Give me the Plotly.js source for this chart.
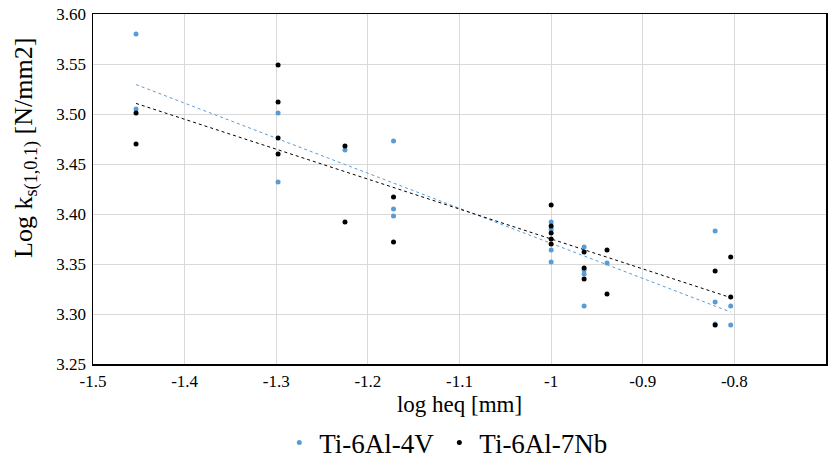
<!DOCTYPE html>
<html>
<head>
<meta charset="utf-8">
<script src="https://cdn.plot.ly/plotly-3.0.1.min.js"></script>
<style>html,body{margin:0;padding:0;background:#fff;}#chart{width:839px;height:461px;}</style>
</head>
<body>
<div id="chart"></div>
<script>
// Ti-6Al-4V (blue)
const v4_x = [-1.453, -1.453, -1.298, -1.298, -1.225, -1.172, -1.172, -1.172,
              -1.0, -1.0, -1.0, -1.0, -0.964, -0.964, -0.964, -0.964,
              -0.939, -0.821, -0.821, -0.821, -0.804, -0.804];
const v4_y = [3.580, 3.505, 3.501, 3.432, 3.464, 3.473, 3.405, 3.398,
              3.392, 3.385, 3.364, 3.352, 3.367, 3.344, 3.340, 3.308,
              3.351, 3.383, 3.312, 3.290, 3.308, 3.289];
// Ti-6Al-7Nb (black)
const nb_x = [-1.453, -1.453, -1.298, -1.298, -1.298, -1.298, -1.225, -1.225,
              -1.172, -1.172, -1.0, -1.0, -1.0, -1.0, -1.0,
              -0.964, -0.964, -0.964, -0.939, -0.939, -0.821, -0.821, -0.804, -0.804];
const nb_y = [3.501, 3.470, 3.549, 3.512, 3.476, 3.460, 3.468, 3.392,
              3.417, 3.372, 3.409, 3.388, 3.381, 3.375, 3.370,
              3.362, 3.346, 3.335, 3.364, 3.320, 3.343, 3.289, 3.357, 3.317];

const seriesNames = ["Ti-6Al-4V", "Ti-6Al-7Nb"];
const xTickVals = [-1.5, -1.4, -1.3, -1.2, -1.1, -1.0, -0.9, -0.8, -0.7];
const xTickText = ["-1.5", "-1.4", "-1.3", "-1.2", "-1.1", "-1", "-0.9", "-0.8", "-0.7"];
const yTickVals = [3.25, 3.30, 3.35, 3.40, 3.45, 3.50, 3.55, 3.60];
const yTickText = ["3.25", "3.30", "3.35", "3.40", "3.45", "3.50", "3.55", "3.60"];
const xTitle = 'log heq [mm]';
const yTitle = 'Log k<sub>s(1,0.1)</sub> [N/mm2]';

function linFit(xs, ys) {
  const n = xs.length;
  let sx = 0, sy = 0, sxx = 0, sxy = 0;
  for (let i = 0; i < n; i++) { sx += xs[i]; sy += ys[i]; sxx += xs[i]*xs[i]; sxy += xs[i]*ys[i]; }
  const b = (n*sxy - sx*sy) / (n*sxx - sx*sx);
  const a = (sy - b*sx) / n;
  const x0 = Math.min(...xs), x1 = Math.max(...xs);
  return {x: [x0, x1], y: [a + b*x0, a + b*x1]};
}

const blue = '#5b9bd5';
const f4 = linFit(v4_x, v4_y);
const fN = linFit(nb_x, nb_y);
const font = '"Liberation Serif", "Times New Roman", serif';

const traces = [
  {x: f4.x, y: f4.y, mode: 'lines', line: {color: blue, width: 1, dash: 'dot'}, showlegend: false, hoverinfo: 'skip'},
  {x: fN.x, y: fN.y, mode: 'lines', line: {color: '#000', width: 1, dash: 'dot'}, showlegend: false, hoverinfo: 'skip'},
  {x: v4_x, y: v4_y, mode: 'markers', name: seriesNames[0], marker: {color: blue, size: 5}},
  {x: nb_x, y: nb_y, mode: 'markers', name: seriesNames[1], marker: {color: '#000', size: 5}}
];

const layout = {
  width: 839, height: 461,
  margin: {l: 93, r: 13, t: 14, b: 97},
  paper_bgcolor: '#fff', plot_bgcolor: '#fff',
  font: {family: font, color: '#000', size: 18},
  xaxis: {
    range: [-1.5, -0.7], tickvals: xTickVals, ticktext: xTickText,
    showgrid: true, gridcolor: '#d9d9d9', gridwidth: 1,
    showline: true, linecolor: '#000', linewidth: 1.5, mirror: true,
    zeroline: false, ticks: '', ticklabelstandoff: 1,
    tickfont: {family: font, size: 17, color: '#000'},
    title: {text: xTitle, font: {family: font, size: 23, color: '#000'}, standoff: 6}
  },
  yaxis: {
    range: [3.25, 3.60], tickvals: yTickVals, ticktext: yTickText,
    showgrid: true, gridcolor: '#d9d9d9', gridwidth: 1,
    showline: true, linecolor: '#000', linewidth: 1.5, mirror: true,
    zeroline: false, ticks: '', ticklabelstandoff: 2,
    tickfont: {family: font, size: 17, color: '#000'}
  },
  annotations: [{
    text: yTitle, textangle: -90, showarrow: false,
    xref: 'paper', yref: 'paper', x: -0.093, y: 0.617,
    xanchor: 'center', yanchor: 'middle',
    font: {family: font, size: 26, color: '#000'}
  }],
  legend: {
    orientation: 'h', x: 0.482, xanchor: 'center',
    yref: 'container', y: 0.039, yanchor: 'middle',
    font: {family: font, size: 27, color: '#000'}, bgcolor: 'rgba(0,0,0,0)'
  },
  showlegend: true
};

Plotly.newPlot('chart', traces, layout, {displayModeBar: false, staticPlot: true});
</script>
</body>
</html>
